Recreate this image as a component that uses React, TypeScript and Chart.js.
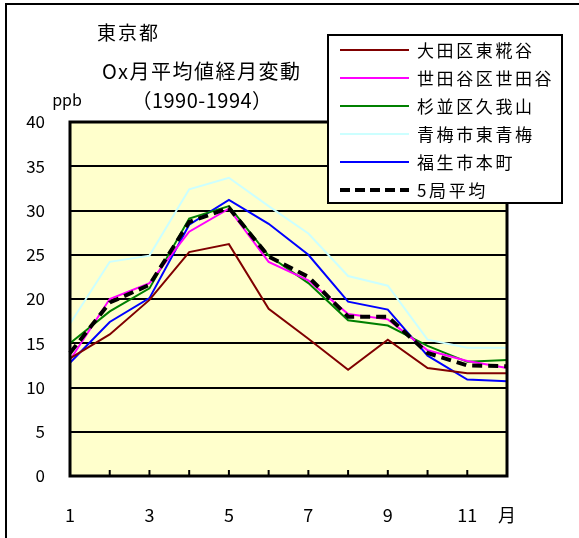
import React, { useEffect, useRef } from "react";
import { Chart, registerables } from "chart.js";

Chart.register(...registerables);

// ---- data ----
const months = ["1", "2", "3", "4", "5", "6", "7", "8", "9", "10", "11", "12"];
const tickLabels = ["1", "", "3", "", "5", "", "7", "", "9", "", "11", "月"];
const ota = [13.3, 16.0, 19.9, 25.3, 26.2, 18.9, 15.5, 12.0, 15.4, 12.2, 11.6, 11.6];
const setagaya = [13.1, 20.0, 21.8, 27.6, 30.2, 24.2, 22.1, 18.3, 17.7, 14.2, 13.0, 12.2];
const suginami = [15.0, 18.6, 21.2, 29.1, 30.5, 24.9, 21.8, 17.6, 17.0, 14.7, 12.9, 13.1];
const ome = [17.2, 24.2, 24.9, 32.4, 33.7, 30.5, 27.4, 22.6, 21.5, 15.4, 14.5, 14.5];
const fussa = [12.8, 17.4, 20.1, 28.4, 31.2, 28.5, 25.0, 19.7, 18.8, 13.6, 10.9, 10.7];
const average = [13.9, 19.6, 21.6, 28.7, 30.3, 24.8, 22.5, 18.0, 18.0, 13.9, 12.5, 12.4];

const seriesNames = ["大田区東糀谷", "世田谷区世田谷", "杉並区久我山", "青梅市東青梅", "福生市本町", "5局平均"];
const seriesColors = ["#800000", "#FF00FF", "#008000", "#CCFFFF", "#0000FF", "#000000"];
const seriesValues = [ota, setagaya, suginami, ome, fussa, average];

const titleMain = "東京都";
const titleSub = "Ox月平均値経月変動";
const titlePeriod = "（1990-1994）";
const unitLabel = "ppb";

const FONT = '"Noto Sans CJK JP", "Noto Sans", sans-serif';

const decorPlugin = {
  id: "decor",
  beforeDraw(chart: any) {
    const { ctx, chartArea: a } = chart;
    ctx.save();
    ctx.fillStyle = "#FFFFFF";
    ctx.fillRect(0, 0, chart.width, chart.height);
    ctx.fillStyle = "#FFFFCC";
    ctx.fillRect(a.left, a.top, a.right - a.left, a.bottom - a.top);
    // outer frame
    ctx.strokeStyle = "#000";
    ctx.lineWidth = 2;
    ctx.strokeRect(6, 4, 800, 800);
    ctx.restore();
  },
  afterDatasetsDraw(chart: any) {
    const { ctx, chartArea: a } = chart;
    const xs = chart.scales.x;
    ctx.save();
    // plot border
    ctx.strokeStyle = "#000";
    ctx.lineWidth = 3;
    ctx.strokeRect(a.left, a.top, a.right - a.left, a.bottom - a.top);
    // inside tick marks
    ctx.lineWidth = 2;
    for (let i = 0; i < months.length; i++) {
      const x = xs.getPixelForValue(i);
      ctx.beginPath();
      ctx.moveTo(x, a.bottom);
      ctx.lineTo(x, a.bottom - 6);
      ctx.stroke();
    }

    // legend
    const lx = 328, ly = 35, lw = 234, lh = 168;
    ctx.fillStyle = "#FFFFFF";
    ctx.fillRect(lx, ly, lw, lh);
    ctx.lineWidth = 2;
    ctx.strokeStyle = "#000";
    ctx.strokeRect(lx, ly, lw, lh);
    ctx.font = `17px ${FONT}`;
    (ctx as any).letterSpacing = "2.6px";
    ctx.textBaseline = "middle";
    ctx.textAlign = "left";
    seriesNames.forEach((name, i) => {
      const y = 50 + i * 28;
      ctx.beginPath();
      ctx.strokeStyle = seriesColors[i];
      if (i === seriesNames.length - 1) {
        ctx.lineWidth = 4;
        ctx.setLineDash([10, 5]);
      } else {
        ctx.lineWidth = 2;
        ctx.setLineDash([]);
      }
      ctx.moveTo(340, y);
      ctx.lineTo(409, y);
      ctx.stroke();
      ctx.setLineDash([]);
      ctx.fillStyle = "#000";
      ctx.fillText(name, 417, y + 1);
    });

    // titles
    ctx.fillStyle = "#000";
    ctx.font = `19px ${FONT}`;
    (ctx as any).letterSpacing = "2px";
    ctx.fillText(titleMain, 97, 33);
    ctx.font = `20px ${FONT}`;
    (ctx as any).letterSpacing = "1.5px";
    ctx.fillText(titleSub, 102, 71);
    ctx.font = `20px ${FONT}`;
    (ctx as any).letterSpacing = "0.5px";
    ctx.textAlign = "center";
    ctx.fillText(titlePeriod, 202, 100);
    (ctx as any).letterSpacing = "0px";
    ctx.font = `16px ${FONT}`;
    ctx.fillText(unitLabel, 67, 100);
    ctx.restore();
  },
};

export default function App() {
  const ref = useRef<HTMLCanvasElement | null>(null);

  useEffect(() => {
    if (!ref.current) return;
    const datasets = seriesValues.map((vals, i) => {
      const isAvg = i === seriesValues.length - 1;
      return {
        label: seriesNames[i],
        data: vals,
        borderColor: seriesColors[i],
        backgroundColor: seriesColors[i],
        borderWidth: isAvg ? 4 : 2,
        borderDash: isAvg ? [10, 6] : [],
        pointRadius: 0,
        tension: 0,
        fill: false,
        order: isAvg ? -1 : i,
      };
    });
    const chart = new Chart(ref.current, {
      type: "line",
      data: { labels: months, datasets },
      plugins: [decorPlugin],
      options: {
        responsive: false,
        animation: false,
        devicePixelRatio: 1,
        layout: { padding: { left: 0, right: 72, top: 122, bottom: 0 } },
        plugins: {
          legend: { display: false },
          title: { display: false },
          tooltip: { enabled: false },
        },
        scales: {
          x: {
            type: "category",
            offset: false,
            border: { display: false },
            grid: { display: false, drawTicks: false },
            ticks: {
              autoSkip: false,
              maxRotation: 0,
              minRotation: 0,
              padding: 28,
              color: "#000",
              font: { family: FONT, size: 18 },
              callback: (_v: any, i: number) => tickLabels[i],
            },
            afterFit: (s: any) => {
              s.height = 62;
            },
          },
          y: {
            min: 0,
            max: 40,
            border: { display: false },
            grid: { color: "#000", lineWidth: 2, drawTicks: false },
            ticks: {
              stepSize: 5,
              padding: 25,
              color: "#000",
              font: { family: FONT, size: 17 },
            },
            afterFit: (s: any) => {
              s.width = 70;
            },
          },
        },
      },
    });
    return () => chart.destroy();
  }, []);

  return (
    <div style={{ position: "fixed", left: 0, top: 0, width: 579, height: 538 }}>
      <canvas ref={ref} width={579} height={538} style={{ display: "block" }} />
    </div>
  );
}
